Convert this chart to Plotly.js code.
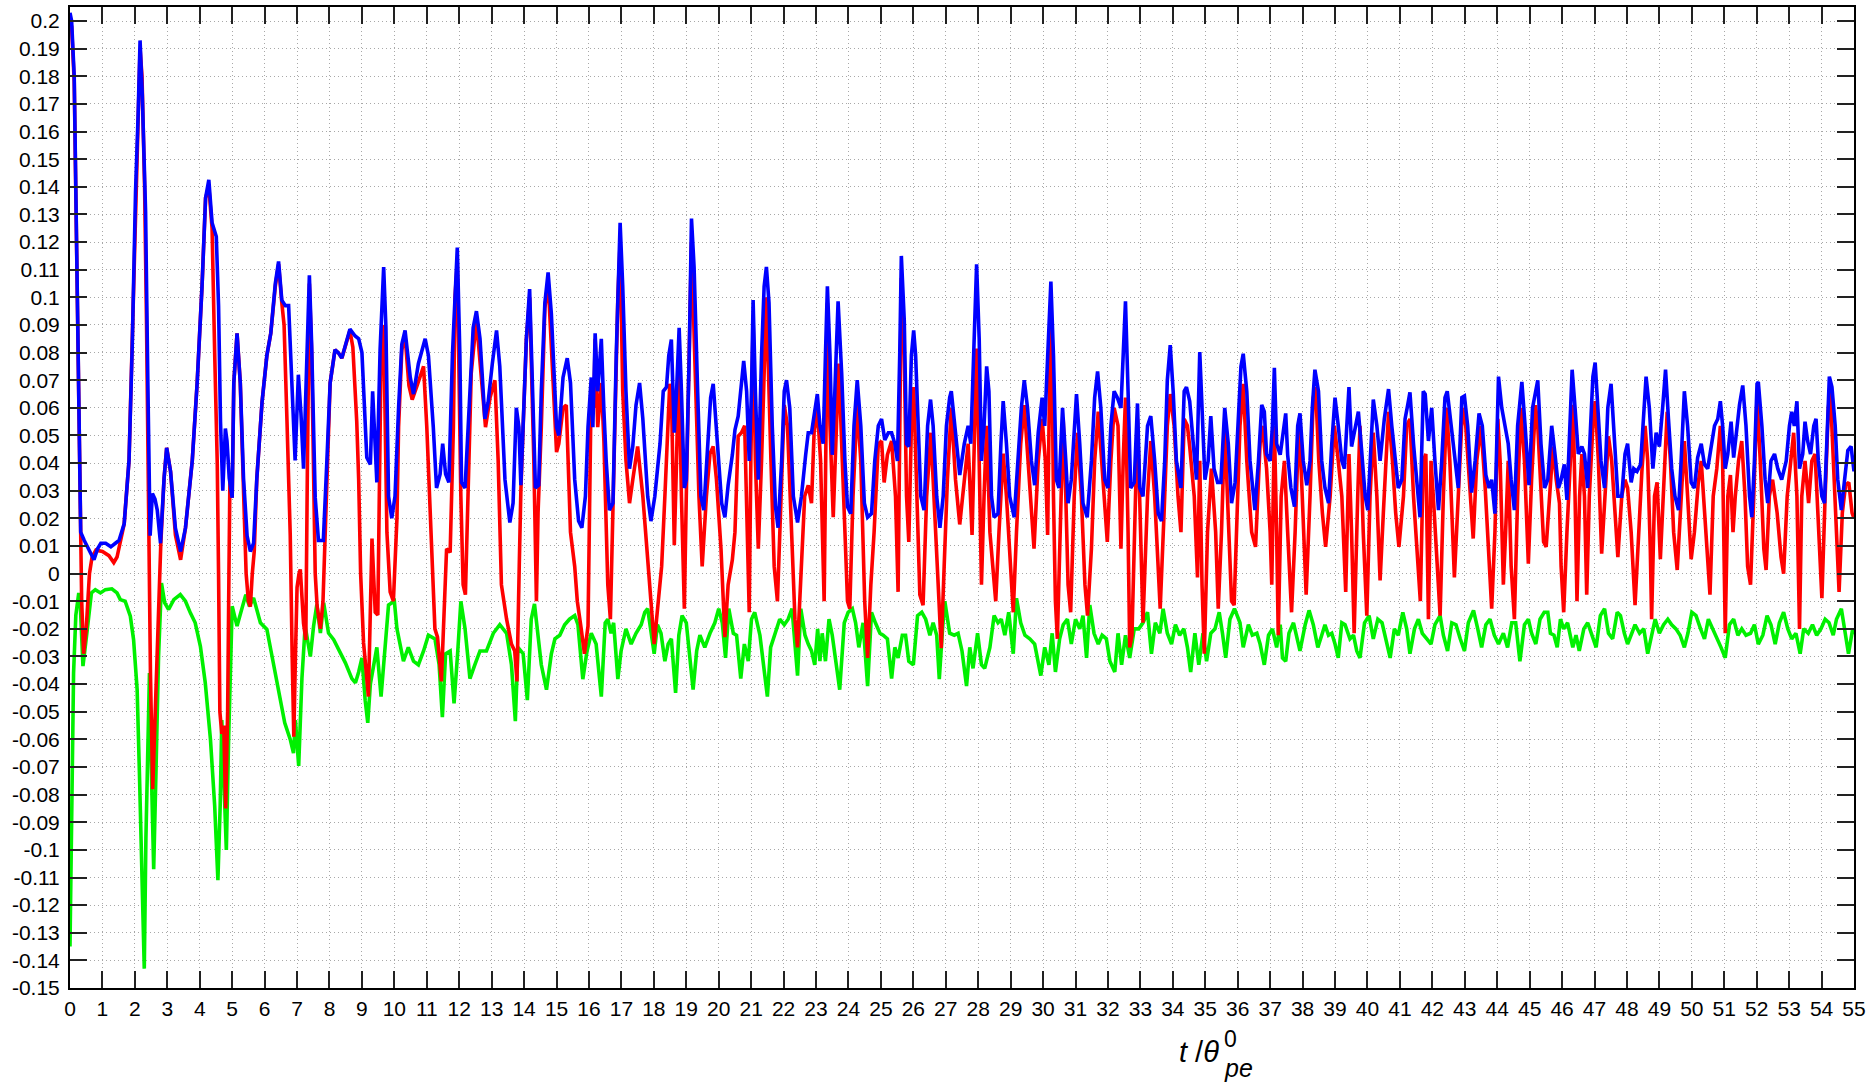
<!DOCTYPE html>
<html>
<head>
<meta charset="utf-8">
<script src="https://cdn.plot.ly/plotly-3.0.1.min.js"></script>
<style>
  html, body { margin: 0; padding: 0; background: #ffffff; }
  #plot { width: 1871px; height: 1085px; }
</style>
</head>
<body>
<div id="plot"></div>
<script>
// Blue curve: [t / theta_pe^0, value]
const bluePoints = [
  [0.0,0.203],[0.05,0.2],[0.13,0.18],[0.18,0.138],[0.23,0.083],[0.28,0.041],[0.33,0.015],[0.44,0.012],
  [0.6,0.008],[0.74,0.005],[0.85,0.009],[0.95,0.011],[1.1,0.011],[1.26,0.0097],[1.4,0.011],[1.51,0.012],
  [1.67,0.018],[1.82,0.041],[1.92,0.083],[2.02,0.138],[2.1,0.166],[2.16,0.193],[2.23,0.173],[2.33,0.131],
  [2.4,0.069],[2.47,0.0137],[2.54,0.029],[2.62,0.027],[2.69,0.023],[2.79,0.011],[2.9,0.0345],[2.98,0.0455],
  [3.1,0.037],[3.25,0.0165],[3.41,0.008],[3.56,0.0165],[3.77,0.041],[3.92,0.069],[4.07,0.104],[4.18,0.136],
  [4.28,0.1425],[4.38,0.127],[4.51,0.122],[4.58,0.097],[4.64,0.055],[4.71,0.03],[4.79,0.0525],[4.84,0.048],
  [4.91,0.0345],[5.0,0.0275],[5.05,0.069],[5.15,0.087],[5.25,0.069],[5.35,0.0345],[5.46,0.0137],[5.56,0.008],
  [5.66,0.011],[5.76,0.0345],[5.92,0.062],[6.07,0.079],[6.19,0.087],[6.33,0.105],[6.43,0.113],[6.53,0.099],
  [6.64,0.097],[6.74,0.097],[6.84,0.069],[6.94,0.041],[7.04,0.072],[7.12,0.058],[7.2,0.038],[7.3,0.083],
  [7.38,0.108],[7.45,0.083],[7.56,0.0275],[7.66,0.012],[7.81,0.012],[7.92,0.041],[8.02,0.069],[8.17,0.081],
  [8.27,0.08],[8.38,0.078],[8.51,0.083],[8.63,0.0885],[8.79,0.086],[8.9,0.085],[9.0,0.08],[9.1,0.053],
  [9.15,0.042],[9.26,0.0395],[9.33,0.066],[9.39,0.051],[9.46,0.033],[9.56,0.081],[9.67,0.111],[9.74,0.089],
  [9.82,0.028],[9.92,0.02],[10.02,0.028],[10.13,0.06],[10.23,0.083],[10.33,0.088],[10.49,0.071],[10.59,0.065],
  [10.74,0.076],[10.95,0.085],[11.05,0.079],[11.2,0.053],[11.3,0.031],[11.41,0.036],[11.49,0.047],[11.58,0.036],
  [11.68,0.033],[11.79,0.079],[11.87,0.104],[11.94,0.118],[12.02,0.079],[12.07,0.033],[12.18,0.031],[12.33,0.066],
  [12.43,0.089],[12.53,0.095],[12.64,0.085],[12.79,0.056],[12.89,0.062],[13.02,0.076],[13.15,0.088],[13.25,0.075],
  [13.41,0.034],[13.56,0.0185],[13.66,0.0255],[13.76,0.06],[13.84,0.053],[13.9,0.032],[13.97,0.053],[14.07,0.085],
  [14.17,0.103],[14.28,0.053],[14.35,0.031],[14.45,0.032],[14.53,0.066],[14.64,0.098],[14.74,0.109],[14.84,0.094],
  [15.0,0.053],[15.07,0.05],[15.2,0.071],[15.33,0.078],[15.43,0.069],[15.56,0.034],[15.68,0.019],[15.78,0.0166],
  [15.89,0.028],[15.97,0.053],[16.07,0.071],[16.12,0.053],[16.19,0.087],[16.27,0.066],[16.38,0.085],[16.46,0.059],
  [16.53,0.041],[16.63,0.023],[16.74,0.0255],[16.84,0.079],[16.89,0.104],[16.96,0.127],[17.04,0.104],[17.14,0.066],
  [17.25,0.038],[17.35,0.046],[17.45,0.061],[17.56,0.069],[17.66,0.056],[17.81,0.028],[17.91,0.019],[18.03,0.028],
  [18.19,0.047],[18.29,0.066],[18.39,0.0675],[18.46,0.079],[18.54,0.0847],[18.63,0.051],[18.7,0.066],[18.78,0.089],
  [18.85,0.066],[18.94,0.031],[19.0,0.034],[19.09,0.079],[19.16,0.1285],[19.24,0.111],[19.35,0.066],[19.45,0.028],
  [19.54,0.023],[19.65,0.047],[19.75,0.0637],[19.83,0.0687],[19.93,0.0535],[20.09,0.0255],[20.19,0.0204],[20.29,0.032],
  [20.42,0.043],[20.5,0.052],[20.6,0.057],[20.68,0.066],[20.77,0.077],[20.86,0.066],[20.94,0.0408],[21.01,0.066],
  [21.06,0.099],[21.13,0.066],[21.22,0.034],[21.32,0.079],[21.4,0.104],[21.47,0.111],[21.55,0.098],[21.65,0.0535],
  [21.75,0.0242],[21.83,0.0166],[21.94,0.0408],[22.02,0.066],[22.09,0.07],[22.19,0.06],[22.3,0.028],[22.43,0.0185],
  [22.55,0.028],[22.68,0.043],[22.76,0.051],[22.86,0.051],[22.96,0.06],[23.04,0.065],[23.12,0.0535],[23.22,0.047],
  [23.29,0.079],[23.35,0.104],[23.43,0.079],[23.5,0.043],[23.58,0.066],[23.68,0.0986],[23.79,0.0726],[23.89,0.0408],
  [23.97,0.0242],[24.07,0.0217],[24.17,0.0535],[24.27,0.07],[24.38,0.0535],[24.49,0.0255],[24.59,0.0204],[24.71,0.0217],
  [24.81,0.0408],[24.92,0.0535],[25.02,0.056],[25.12,0.0484],[25.23,0.051],[25.33,0.051],[25.43,0.047],[25.51,0.0408],
  [25.58,0.079],[25.63,0.115],[25.72,0.0917],[25.79,0.047],[25.86,0.046],[25.94,0.079],[26.01,0.088],[26.07,0.079],
  [26.15,0.0535],[26.23,0.028],[26.33,0.023],[26.44,0.0535],[26.53,0.063],[26.61,0.0535],[26.72,0.028],[26.82,0.0166],
  [26.92,0.028],[27.02,0.0535],[27.12,0.0637],[27.17,0.066],[27.3,0.051],[27.43,0.0357],[27.57,0.047],[27.69,0.0535],
  [27.77,0.047],[27.87,0.079],[27.95,0.112],[28.03,0.085],[28.1,0.0408],[28.18,0.0535],[28.26,0.075],[28.33,0.066],
  [28.41,0.028],[28.49,0.0204],[28.61,0.0217],[28.7,0.047],[28.77,0.0624],[28.87,0.047],[28.97,0.028],[29.11,0.0204],
  [29.23,0.0408],[29.33,0.06],[29.42,0.07],[29.52,0.06],[29.64,0.0408],[29.74,0.032],[29.85,0.051],[29.97,0.0637],
  [30.05,0.0535],[30.16,0.085],[30.24,0.1057],[30.32,0.079],[30.41,0.034],[30.49,0.031],[30.6,0.06],[30.7,0.0408],
  [30.77,0.0255],[30.87,0.034],[31.03,0.065],[31.13,0.047],[31.23,0.0255],[31.36,0.0204],[31.49,0.0408],[31.59,0.0637],
  [31.68,0.0732],[31.78,0.06],[31.9,0.034],[32.0,0.031],[32.09,0.0535],[32.19,0.066],[32.29,0.0637],[32.4,0.06],
  [32.47,0.079],[32.54,0.0986],[32.62,0.066],[32.7,0.031],[32.81,0.033],[32.91,0.0616],[32.98,0.031],[33.08,0.028],
  [33.22,0.0535],[33.32,0.057],[33.44,0.0408],[33.55,0.0217],[33.65,0.019],[33.75,0.0408],[33.83,0.07],[33.92,0.0827],
  [34.01,0.066],[34.11,0.0408],[34.25,0.031],[34.35,0.066],[34.42,0.0675],[34.52,0.0624],[34.63,0.047],[34.73,0.034],
  [34.83,0.0802],[34.91,0.0535],[34.99,0.034],[35.09,0.0408],[35.17,0.057],[35.27,0.038],[35.38,0.033],[35.48,0.033],
  [35.6,0.06],[35.71,0.047],[35.81,0.0255],[35.92,0.033],[36.02,0.0535],[36.1,0.075],[36.17,0.0796],[36.28,0.066],
  [36.38,0.0408],[36.53,0.023],[36.64,0.0408],[36.74,0.0611],[36.82,0.0586],[36.89,0.0433],[37.0,0.0408],[37.07,0.0535],
  [37.13,0.0745],[37.2,0.047],[37.31,0.043],[37.41,0.0535],[37.48,0.058],[37.54,0.043],[37.64,0.031],[37.75,0.0242],
  [37.85,0.0535],[37.92,0.058],[38.02,0.0408],[38.13,0.032],[38.23,0.0408],[38.3,0.06],[38.38,0.0738],[38.49,0.066],
  [38.59,0.0408],[38.69,0.031],[38.8,0.0255],[38.9,0.047],[39.0,0.0637],[39.1,0.0535],[39.21,0.0408],[39.29,0.038],
  [39.36,0.0535],[39.43,0.0675],[39.51,0.046],[39.62,0.0535],[39.72,0.0586],[39.82,0.0446],[39.93,0.028],[40.01,0.023],
  [40.11,0.051],[40.18,0.063],[40.29,0.0535],[40.39,0.0408],[40.52,0.056],[40.65,0.0668],[40.75,0.0535],[40.85,0.0408],
  [40.95,0.031],[41.06,0.034],[41.16,0.056],[41.24,0.061],[41.31,0.0656],[41.42,0.047],[41.52,0.034],[41.62,0.0204],
  [41.72,0.066],[41.78,0.065],[41.88,0.048],[41.98,0.06],[42.08,0.0408],[42.19,0.023],[42.29,0.0408],[42.39,0.0637],
  [42.46,0.066],[42.58,0.0535],[42.7,0.0408],[42.8,0.031],[42.91,0.0637],[42.99,0.0643],[43.09,0.0535],[43.21,0.0293],
  [43.32,0.0408],[43.44,0.058],[43.54,0.0535],[43.65,0.0357],[43.75,0.031],[43.83,0.034],[43.93,0.0217],[44.04,0.0713],
  [44.14,0.06],[44.24,0.0535],[44.34,0.047],[44.43,0.034],[44.53,0.023],[44.63,0.0535],[44.76,0.0694],[44.86,0.0535],
  [44.98,0.032],[45.09,0.06],[45.25,0.07],[45.35,0.047],[45.46,0.031],[45.56,0.034],[45.68,0.0535],[45.78,0.0433],
  [45.89,0.031],[45.97,0.034],[46.07,0.0395],[46.15,0.0267],[46.23,0.047],[46.31,0.0738],[46.4,0.06],[46.5,0.0433],
  [46.61,0.046],[46.69,0.0433],[46.79,0.031],[46.87,0.0535],[46.95,0.0713],[47.02,0.0764],[47.12,0.0535],[47.2,0.0408],
  [47.31,0.031],[47.41,0.06],[47.51,0.0687],[47.61,0.047],[47.72,0.028],[47.84,0.028],[47.94,0.0433],[48.02,0.047],
  [48.13,0.033],[48.21,0.038],[48.31,0.037],[48.42,0.0395],[48.49,0.0535],[48.59,0.0713],[48.69,0.06],[48.8,0.038],
  [48.9,0.051],[49.0,0.046],[49.1,0.06],[49.19,0.0738],[49.28,0.056],[49.38,0.038],[49.48,0.028],[49.59,0.023],
  [49.67,0.0408],[49.77,0.066],[49.87,0.0535],[49.98,0.033],[50.08,0.031],[50.18,0.042],[50.29,0.047],[50.39,0.0395],
  [50.49,0.038],[50.59,0.046],[50.7,0.0535],[50.8,0.056],[50.88,0.0624],[50.95,0.0535],[51.03,0.038],[51.11,0.0433],
  [51.21,0.055],[51.29,0.042],[51.4,0.0535],[51.47,0.0611],[51.57,0.0681],[51.67,0.0535],[51.78,0.028],[51.85,0.0204],
  [51.93,0.0408],[52.01,0.0687],[52.05,0.0694],[52.16,0.0535],[52.26,0.034],[52.34,0.0255],[52.44,0.0408],[52.55,0.0433],
  [52.65,0.038],[52.77,0.034],[52.91,0.0408],[53.01,0.0535],[53.08,0.0586],[53.16,0.0535],[53.24,0.0624],[53.32,0.038],
  [53.42,0.0433],[53.49,0.055],[53.57,0.048],[53.66,0.0433],[53.76,0.0535],[53.83,0.056],[53.9,0.0408],[54.01,0.028],
  [54.09,0.0255],[54.17,0.047],[54.24,0.0713],[54.32,0.0675],[54.42,0.0535],[54.5,0.034],[54.61,0.023],[54.71,0.034],
  [54.81,0.0446],[54.91,0.046],[55.0,0.037]
];

// Red curve: [t / theta_pe^0, value]
const redPoints = [
  [0.0,0.2],[0.05,0.198],[0.13,0.178],[0.18,0.136],[0.23,0.081],[0.28,0.04],[0.31,0.013],[0.36,-0.01],
  [0.42,-0.029],[0.5,-0.02],[0.6,0.0],[0.68,0.006],[0.8,0.0085],[1.0,0.008],[1.2,0.0065],[1.35,0.004],
  [1.45,0.006],[1.55,0.012],[1.67,0.018],[1.82,0.041],[1.92,0.083],[2.02,0.136],[2.1,0.164],[2.16,0.19],
  [2.22,0.18],[2.3,0.14],[2.36,0.09],[2.42,0.03],[2.45,0.0],[2.48,-0.036],[2.55,-0.078],[2.65,-0.04],
  [2.75,-0.01],[2.8,0.011],[2.9,0.0345],[2.98,0.0455],[3.1,0.037],[3.25,0.014],[3.41,0.005],[3.56,0.0165],
  [3.77,0.041],[3.92,0.069],[4.07,0.104],[4.18,0.136],[4.28,0.14],[4.38,0.125],[4.46,0.08],[4.54,0.04],
  [4.58,0.0],[4.62,-0.05],[4.68,-0.058],[4.74,-0.055],[4.8,-0.085],[4.86,-0.05],[4.9,0.0],[4.93,0.034],
  [5.0,0.0275],[5.05,0.069],[5.15,0.087],[5.25,0.069],[5.35,0.03],[5.43,0.0],[5.5,-0.01],[5.56,-0.012],
  [5.62,0.0],[5.68,0.008],[5.76,0.0345],[5.92,0.062],[6.07,0.079],[6.19,0.087],[6.33,0.104],[6.43,0.112],
  [6.53,0.098],[6.6,0.09],[6.69,0.055],[6.79,0.014],[6.85,-0.03],[6.9,-0.059],[6.95,-0.03],[7.0,-0.005],
  [7.06,0.0],[7.1,0.0015],[7.2,-0.018],[7.27,-0.024],[7.32,0.04],[7.38,0.105],[7.45,0.08],[7.52,0.02],
  [7.56,0.0],[7.62,-0.012],[7.72,-0.02],[7.8,-0.01],[7.86,0.012],[7.92,0.041],[8.02,0.069],[8.17,0.081],
  [8.27,0.08],[8.38,0.078],[8.51,0.083],[8.63,0.088],[8.72,0.082],[8.84,0.055],[8.9,0.034],[8.96,0.0],
  [9.05,-0.025],[9.12,-0.036],[9.2,-0.0445],[9.31,0.0127],[9.41,-0.014],[9.49,-0.015],[9.59,0.079],[9.67,0.09],
  [9.77,0.015],[9.87,-0.0066],[9.97,-0.01],[10.08,0.02],[10.13,0.053],[10.23,0.081],[10.33,0.086],[10.45,0.068],
  [10.55,0.063],[10.7,0.068],[10.9,0.075],[11.0,0.053],[11.1,0.022],[11.25,-0.02],[11.33,-0.023],[11.45,-0.039],
  [11.61,0.009],[11.72,0.0077],[11.82,0.053],[11.87,0.1],[11.94,0.113],[12.05,0.028],[12.12,-0.004],[12.19,-0.0076],
  [12.27,0.028],[12.37,0.0726],[12.53,0.092],[12.69,0.07],[12.81,0.053],[12.95,0.0637],[13.1,0.07],[13.2,0.041],
  [13.3,-0.004],[13.46,-0.0165],[13.61,-0.0255],[13.71,-0.028],[13.78,-0.039],[13.85,0.0026],[13.9,0.03],[13.97,0.053],
  [14.07,0.085],[14.17,0.1],[14.3,0.041],[14.38,-0.01],[14.43,0.022],[14.53,0.053],[14.64,0.096],[14.74,0.106],
  [14.9,0.064],[15.0,0.044],[15.07,0.047],[15.2,0.06],[15.3,0.061],[15.43,0.015],[15.56,0.0026],[15.64,-0.01],
  [15.76,-0.02],[15.86,-0.029],[15.97,-0.019],[16.02,0.028],[16.07,0.069],[16.15,0.06],[16.19,0.085],[16.27,0.053],
  [16.38,0.069],[16.46,0.048],[16.58,-0.004],[16.66,-0.0165],[16.74,0.023],[16.84,0.066],[16.89,0.1],[16.96,0.12],
  [17.04,0.066],[17.14,0.041],[17.25,0.0255],[17.35,0.034],[17.5,0.046],[17.66,0.028],[17.81,0.0026],[17.91,-0.01],
  [18.01,-0.0255],[18.11,-0.014],[18.24,0.0026],[18.34,0.028],[18.42,0.0535],[18.49,0.0687],[18.54,0.066],[18.63,0.0103],
  [18.7,0.041],[18.77,0.079],[18.85,0.028],[18.94,-0.0127],[19.0,0.028],[19.09,0.079],[19.16,0.12],[19.26,0.079],
  [19.39,0.028],[19.49,0.0026],[19.62,0.028],[19.73,0.0434],[19.83,0.046],[19.93,0.034],[20.07,0.009],[20.19,-0.023],
  [20.29,-0.004],[20.42,0.005],[20.5,0.015],[20.6,0.0497],[20.7,0.051],[20.8,0.0535],[20.87,0.02],[20.94,-0.014],
  [20.99,0.0408],[21.06,0.092],[21.13,0.0408],[21.22,0.009],[21.32,0.0408],[21.47,0.1],[21.61,0.0408],[21.71,0.0026],
  [21.81,-0.01],[21.91,0.028],[22.02,0.061],[22.12,0.0535],[22.24,0.015],[22.35,-0.0165],[22.43,-0.0267],[22.55,0.0026],
  [22.65,0.028],[22.76,0.032],[22.86,0.0255],[22.94,0.051],[23.04,0.06],[23.14,0.0408],[23.25,-0.01],[23.31,0.0535],
  [23.35,0.098],[23.43,0.0535],[23.53,0.0204],[23.63,0.0535],[23.7,0.076],[23.81,0.0408],[23.89,0.015],[23.97,-0.01],
  [24.04,-0.0127],[24.14,0.028],[24.27,0.061],[24.38,0.0408],[24.5,-0.01],[24.59,-0.0305],[24.69,-0.004],[24.79,0.015],
  [24.92,0.047],[25.02,0.048],[25.1,0.033],[25.2,0.043],[25.33,0.048],[25.45,0.028],[25.53,-0.0066],[25.58,0.041],
  [25.63,0.107],[25.72,0.079],[25.79,0.028],[25.86,0.0115],[25.94,0.0535],[26.01,0.0675],[26.1,0.028],[26.2,-0.0076],
  [26.3,-0.0114],[26.41,0.028],[26.54,0.051],[26.66,0.022],[26.77,-0.01],[26.86,-0.027],[26.95,0.0026],[27.05,0.034],
  [27.17,0.06],[27.3,0.034],[27.43,0.0178],[27.57,0.034],[27.69,0.047],[27.81,0.014],[27.9,0.0535],[27.95,0.0815],
  [28.03,0.0408],[28.1,-0.004],[28.18,0.028],[28.26,0.0535],[28.36,0.015],[28.46,0.0026],[28.54,-0.01],[28.64,0.015],
  [28.77,0.0434],[28.87,0.028],[29.0,0.0],[29.08,-0.014],[29.18,0.015],[29.31,0.047],[29.42,0.061],[29.54,0.0408],
  [29.64,0.022],[29.72,0.009],[29.85,0.0408],[29.97,0.056],[30.07,0.0408],[30.14,0.014],[30.21,0.079],[30.26,0.092],
  [30.32,0.028],[30.38,-0.01],[30.44,-0.0236],[30.55,0.028],[30.62,0.056],[30.7,0.028],[30.77,-0.004],[30.85,-0.014],
  [30.96,0.028],[31.06,0.051],[31.18,0.028],[31.29,-0.004],[31.37,-0.0152],[31.49,0.009],[31.59,0.0408],[31.7,0.0586],
  [31.8,0.0408],[31.92,0.0178],[31.98,0.0115],[32.09,0.0408],[32.19,0.06],[32.31,0.0535],[32.4,0.009],[32.47,0.0408],
  [32.54,0.0637],[32.62,0.015],[32.67,-0.0267],[32.74,-0.0223],[32.83,0.015],[32.91,0.056],[32.99,0.022],[33.08,-0.0178],
  [33.22,0.028],[33.32,0.048],[33.44,0.028],[33.53,0.0026],[33.61,-0.0127],[33.73,0.022],[33.83,0.0535],[33.92,0.065],
  [34.04,0.0535],[34.16,0.028],[34.25,0.015],[34.35,0.056],[34.45,0.0535],[34.52,0.046],[34.66,0.028],[34.76,-0.0014],
  [34.83,0.0408],[34.9,-0.004],[34.97,-0.029],[35.07,0.015],[35.19,0.038],[35.32,0.015],[35.4,-0.0127],[35.5,0.015],
  [35.6,0.0535],[35.71,0.02],[35.81,-0.01],[35.89,-0.0114],[35.97,0.022],[36.07,0.0535],[36.17,0.0687],[36.28,0.0408],
  [36.43,0.015],[36.55,0.0097],[36.69,0.047],[36.76,0.0535],[36.89,0.038],[37.0,0.015],[37.05,-0.004],[37.13,0.0535],
  [37.2,0.015],[37.25,-0.0223],[37.34,0.028],[37.44,0.0408],[37.54,0.015],[37.66,-0.014],[37.77,0.015],[37.89,0.056],
  [37.99,0.028],[38.11,-0.0076],[38.23,0.028],[38.33,0.0637],[38.4,0.0675],[38.5,0.0408],[38.61,0.022],[38.71,0.0097],
  [38.85,0.028],[38.98,0.0535],[39.1,0.0408],[39.21,0.028],[39.33,-0.0066],[39.39,0.028],[39.43,0.0433],[39.51,0.015],
  [39.59,-0.0216],[39.7,0.028],[39.77,0.0535],[39.87,0.015],[39.98,-0.0152],[40.08,0.028],[40.18,0.051],[40.29,0.028],
  [40.39,-0.0025],[40.49,0.022],[40.65,0.0586],[40.77,0.0408],[40.87,0.022],[40.97,0.0097],[41.11,0.028],[41.21,0.0535],
  [41.31,0.056],[41.42,0.028],[41.55,0.0026],[41.63,-0.01],[41.72,0.0408],[41.8,0.0433],[41.88,-0.0165],[41.96,0.0408],
  [42.03,0.028],[42.14,0.0026],[42.24,-0.0152],[42.34,0.028],[42.44,0.06],[42.54,0.0408],[42.68,-0.0014],[42.8,0.028],
  [42.93,0.06],[43.03,0.0535],[43.16,0.028],[43.26,0.0127],[43.37,0.0408],[43.5,0.0535],[43.63,0.031],[43.75,0.0026],
  [43.83,-0.0127],[43.93,0.015],[44.02,0.056],[44.09,0.0408],[44.19,-0.004],[44.26,0.015],[44.34,0.0408],[44.43,0.0026],
  [44.53,-0.0165],[44.63,0.028],[44.73,0.06],[44.84,0.0408],[44.96,0.0036],[45.06,0.034],[45.18,0.061],[45.25,0.0535],
  [45.35,0.028],[45.43,0.0115],[45.51,0.0097],[45.61,0.028],[45.72,0.046],[45.82,0.034],[45.92,0.0255],[45.97,0.0026],
  [46.05,-0.014],[46.15,0.015],[46.26,0.0408],[46.34,0.0611],[46.4,0.028],[46.46,-0.01],[46.54,0.028],[46.61,0.0433],
  [46.69,0.028],[46.76,-0.0076],[46.84,0.028],[46.95,0.0535],[47.02,0.0624],[47.12,0.0408],[47.22,0.0072],[47.33,0.028],
  [47.43,0.0497],[47.53,0.0408],[47.63,0.022],[47.72,0.006],[47.84,0.028],[47.94,0.034],[48.02,0.031],[48.13,0.015],
  [48.25,-0.0114],[48.35,0.015],[48.46,0.037],[48.56,0.0535],[48.64,0.0408],[48.72,0.0089],[48.76,-0.0165],[48.85,0.028],
  [48.93,0.033],[49.03,0.0052],[49.13,0.028],[49.24,0.0586],[49.34,0.0408],[49.44,0.015],[49.55,0.0013],[49.65,0.022],
  [49.77,0.048],[49.87,0.028],[49.98,0.0052],[50.08,0.015],[50.2,0.033],[50.29,0.0408],[50.39,0.022],[50.49,0.0026],
  [50.56,-0.0076],[50.66,0.028],[50.77,0.038],[50.88,0.0535],[50.95,0.0408],[51.03,-0.0216],[51.11,0.028],[51.19,0.0357],
  [51.27,0.015],[51.34,0.028],[51.44,0.0408],[51.54,0.048],[51.64,0.028],[51.72,0.0026],[51.81,-0.004],[51.91,0.028],
  [52.01,0.0637],[52.11,0.0408],[52.22,0.009],[52.29,0.0013],[52.39,0.028],[52.49,0.034],[52.63,0.022],[52.75,0.006],
  [52.83,0.0],[52.94,0.028],[53.04,0.0408],[53.14,0.051],[53.24,0.028],[53.32,-0.02],[53.39,0.028],[53.49,0.0408],
  [53.6,0.0255],[53.7,0.0408],[53.8,0.0433],[53.9,0.015],[54.01,-0.0089],[54.11,0.028],[54.21,0.06],[54.27,0.066],
  [54.37,0.0408],[54.47,0.015],[54.54,-0.0066],[54.64,0.022],[54.74,0.032],[54.84,0.033],[54.94,0.022],[55.0,0.02]
];

// Green curve: [t / theta_pe^0, value]
const greenPoints = [
  [0.0,-0.135],[0.04,-0.09],[0.08,-0.05],[0.11,-0.036],[0.18,-0.015],[0.27,-0.007],[0.32,-0.012],[0.4,-0.0335],
  [0.52,-0.0215],[0.66,-0.007],[0.78,-0.0058],[0.94,-0.007],[1.09,-0.0058],[1.29,-0.0055],[1.45,-0.007],[1.55,-0.0094],
  [1.7,-0.01],[1.86,-0.0154],[1.96,-0.0239],[2.07,-0.042],[2.14,-0.072],[2.2,-0.096],[2.24,-0.12],[2.29,-0.143],
  [2.34,-0.096],[2.4,-0.055],[2.45,-0.036],[2.51,-0.072],[2.58,-0.107],[2.65,-0.072],[2.73,-0.03],[2.82,-0.0034],
  [2.92,-0.0106],[3.04,-0.013],[3.2,-0.0094],[3.4,-0.0076],[3.56,-0.01],[3.71,-0.0142],[3.86,-0.0178],[4.02,-0.0263],
  [4.17,-0.0395],[4.33,-0.06],[4.46,-0.084],[4.56,-0.111],[4.63,-0.084],[4.68,-0.053],[4.76,-0.084],[4.82,-0.1],
  [4.89,-0.06],[5.0,-0.0118],[5.15,-0.019],[5.3,-0.013],[5.42,-0.0076],[5.53,-0.0118],[5.66,-0.0088],[5.87,-0.0178],
  [6.07,-0.0202],[6.23,-0.03],[6.43,-0.042],[6.62,-0.054],[6.79,-0.06],[6.89,-0.065],[6.95,-0.053],[7.05,-0.0696],
  [7.15,-0.038],[7.25,-0.019],[7.41,-0.03],[7.51,-0.019],[7.61,-0.0112],[7.72,-0.0215],[7.82,-0.0106],[7.97,-0.0215],
  [8.13,-0.0239],[8.28,-0.0275],[8.49,-0.0323],[8.69,-0.038],[8.8,-0.0395],[8.9,-0.0356],[9.0,-0.0305],[9.1,-0.0458],
  [9.18,-0.054],[9.26,-0.04],[9.46,-0.0267],[9.59,-0.0445],[9.82,-0.0114],[10.0,-0.01],[10.08,-0.02],[10.28,-0.0317],
  [10.43,-0.0267],[10.59,-0.0317],[10.74,-0.033],[10.9,-0.028],[11.05,-0.0223],[11.25,-0.0236],[11.38,-0.033],[11.48,-0.052],
  [11.58,-0.029],[11.72,-0.028],[11.84,-0.047],[11.95,-0.029],[12.05,-0.01],[12.18,-0.02],[12.33,-0.038],[12.48,-0.033],
  [12.64,-0.028],[12.84,-0.028],[13.05,-0.0216],[13.25,-0.0185],[13.46,-0.0216],[13.61,-0.033],[13.73,-0.0534],[13.81,-0.0267],
  [13.97,-0.029],[14.1,-0.0458],[14.22,-0.0165],[14.32,-0.011],[14.43,-0.0223],[14.53,-0.033],[14.69,-0.042],[14.84,-0.029],
  [14.95,-0.0236],[15.1,-0.0223],[15.25,-0.0185],[15.4,-0.0165],[15.56,-0.0152],[15.66,-0.0185],[15.81,-0.0382],[15.94,-0.028],
  [16.07,-0.0216],[16.22,-0.0255],[16.38,-0.0445],[16.5,-0.0178],[16.58,-0.0165],[16.68,-0.0216],[16.76,-0.0178],[16.89,-0.0382],
  [16.99,-0.028],[17.14,-0.02],[17.3,-0.0255],[17.45,-0.0216],[17.61,-0.0185],[17.72,-0.014],[17.81,-0.0127],[17.93,-0.0223],
  [18.01,-0.029],[18.11,-0.0185],[18.22,-0.0216],[18.34,-0.0317],[18.44,-0.0255],[18.54,-0.0236],[18.67,-0.0432],[18.77,-0.0223],
  [18.87,-0.0152],[19.0,-0.0178],[19.11,-0.029],[19.21,-0.042],[19.32,-0.028],[19.42,-0.0223],[19.57,-0.0267],[19.73,-0.0216],
  [19.88,-0.0178],[20.0,-0.0127],[20.11,-0.0178],[20.21,-0.0305],[20.31,-0.0127],[20.45,-0.0216],[20.55,-0.0223],[20.68,-0.038],
  [20.79,-0.0255],[20.91,-0.0317],[21.01,-0.0165],[21.11,-0.014],[21.27,-0.0223],[21.4,-0.0356],[21.5,-0.0445],[21.6,-0.0267],
  [21.73,-0.0216],[21.88,-0.0165],[22.02,-0.0185],[22.14,-0.0165],[22.26,-0.0127],[22.35,-0.0267],[22.43,-0.0369],[22.53,-0.0127],
  [22.66,-0.0223],[22.76,-0.0255],[22.86,-0.028],[22.96,-0.033],[23.05,-0.02],[23.12,-0.0317],[23.19,-0.0216],[23.29,-0.0317],
  [23.4,-0.0165],[23.5,-0.0223],[23.63,-0.0343],[23.73,-0.042],[23.87,-0.0178],[23.99,-0.014],[24.12,-0.0127],[24.22,-0.0178],
  [24.32,-0.0267],[24.45,-0.0178],[24.59,-0.0407],[24.71,-0.014],[24.83,-0.0178],[24.97,-0.0216],[25.07,-0.0223],[25.2,-0.0236],
  [25.33,-0.038],[25.43,-0.0267],[25.53,-0.0305],[25.66,-0.0223],[25.76,-0.0223],[25.86,-0.0317],[26.0,-0.033],[26.13,-0.0152],
  [26.26,-0.014],[26.38,-0.0165],[26.51,-0.0223],[26.61,-0.0178],[26.72,-0.0223],[26.8,-0.0382],[26.9,-0.02],[26.97,-0.01],
  [27.12,-0.0216],[27.26,-0.0223],[27.38,-0.0216],[27.5,-0.028],[27.64,-0.0407],[27.74,-0.0267],[27.84,-0.0343],[27.98,-0.0216],
  [28.1,-0.033],[28.2,-0.0343],[28.36,-0.0267],[28.49,-0.0152],[28.61,-0.0178],[28.71,-0.0165],[28.82,-0.0223],[28.94,-0.014],
  [29.08,-0.029],[29.18,-0.0089],[29.31,-0.0178],[29.44,-0.0223],[29.59,-0.0236],[29.74,-0.0255],[29.93,-0.0369],[30.05,-0.0267],
  [30.18,-0.033],[30.28,-0.0216],[30.38,-0.0356],[30.51,-0.0236],[30.62,-0.0185],[30.75,-0.0165],[30.87,-0.0255],[31.0,-0.0165],
  [31.13,-0.02],[31.23,-0.0152],[31.34,-0.0305],[31.44,-0.0114],[31.57,-0.0216],[31.7,-0.0255],[31.82,-0.0223],[31.95,-0.0236],
  [32.06,-0.0317],[32.21,-0.0356],[32.31,-0.0216],[32.42,-0.033],[32.54,-0.0223],[32.67,-0.0305],[32.81,-0.02],[32.95,-0.02],
  [33.08,-0.0178],[33.22,-0.014],[33.34,-0.029],[33.46,-0.0178],[33.6,-0.0216],[33.7,-0.0127],[33.83,-0.0216],[33.96,-0.0255],
  [34.08,-0.0185],[34.21,-0.0223],[34.34,-0.02],[34.45,-0.0267],[34.55,-0.0356],[34.68,-0.0216],[34.8,-0.033],[34.93,-0.0216],
  [35.04,-0.0317],[35.17,-0.0216],[35.3,-0.02],[35.43,-0.014],[35.53,-0.0216],[35.63,-0.0305],[35.76,-0.0165],[35.9,-0.0127],
  [36.07,-0.0178],[36.17,-0.0267],[36.33,-0.0185],[36.45,-0.0223],[36.59,-0.0216],[36.69,-0.0255],[36.82,-0.033],[36.95,-0.0223],
  [37.07,-0.02],[37.2,-0.0267],[37.31,-0.0185],[37.38,-0.0305],[37.48,-0.0317],[37.58,-0.0216],[37.72,-0.0178],[37.82,-0.0236],
  [37.92,-0.028],[38.08,-0.0185],[38.2,-0.0133],[38.33,-0.0185],[38.47,-0.0267],[38.59,-0.0223],[38.69,-0.0185],[38.8,-0.0223],
  [38.9,-0.0216],[39.0,-0.0255],[39.1,-0.0305],[39.21,-0.0178],[39.31,-0.0185],[39.46,-0.0236],[39.57,-0.0223],[39.67,-0.028],
  [39.77,-0.0305],[39.91,-0.0178],[40.05,-0.0152],[40.18,-0.0236],[40.32,-0.0165],[40.45,-0.0178],[40.59,-0.0255],[40.7,-0.0305],
  [40.83,-0.02],[40.95,-0.0223],[41.09,-0.014],[41.21,-0.02],[41.31,-0.029],[41.45,-0.02],[41.57,-0.0165],[41.69,-0.0216],
  [41.83,-0.0236],[41.96,-0.0255],[42.08,-0.0185],[42.24,-0.0152],[42.34,-0.0223],[42.47,-0.028],[42.6,-0.0178],[42.73,-0.0185],
  [42.86,-0.0236],[42.99,-0.028],[43.11,-0.0178],[43.27,-0.0133],[43.4,-0.02],[43.52,-0.0267],[43.65,-0.0185],[43.78,-0.0165],
  [43.91,-0.0223],[44.04,-0.0255],[44.19,-0.0216],[44.32,-0.0267],[44.45,-0.0178],[44.57,-0.0178],[44.7,-0.0317],[44.84,-0.0185],
  [44.96,-0.0165],[45.06,-0.0216],[45.19,-0.0255],[45.32,-0.0165],[45.45,-0.014],[45.56,-0.014],[45.64,-0.0216],[45.75,-0.0223],
  [45.85,-0.0267],[45.95,-0.0165],[46.05,-0.02],[46.17,-0.0178],[46.33,-0.0267],[46.43,-0.0223],[46.53,-0.028],[46.67,-0.02],
  [46.79,-0.0178],[46.91,-0.0223],[47.05,-0.0267],[47.18,-0.0152],[47.31,-0.0127],[47.43,-0.0216],[47.56,-0.0236],[47.7,-0.014],
  [47.8,-0.0152],[47.92,-0.0216],[48.02,-0.0255],[48.15,-0.0216],[48.25,-0.0185],[48.39,-0.0216],[48.52,-0.02],[48.64,-0.029],
  [48.76,-0.0216],[48.87,-0.0165],[49.0,-0.0216],[49.13,-0.0185],[49.26,-0.0165],[49.38,-0.0185],[49.51,-0.02],[49.64,-0.0223],
  [49.77,-0.0267],[49.88,-0.0216],[50.0,-0.014],[50.13,-0.0152],[50.27,-0.02],[50.39,-0.0236],[50.51,-0.0165],[50.65,-0.02],
  [50.78,-0.0236],[50.9,-0.0267],[51.03,-0.0305],[51.16,-0.0185],[51.29,-0.0165],[51.42,-0.0223],[51.54,-0.02],[51.67,-0.0223],
  [51.81,-0.0216],[51.93,-0.0185],[52.05,-0.0255],[52.19,-0.0223],[52.32,-0.0152],[52.44,-0.0185],[52.57,-0.0255],[52.7,-0.0178],
  [52.83,-0.014],[52.96,-0.02],[53.08,-0.0236],[53.21,-0.0216],[53.34,-0.029],[53.45,-0.02],[53.59,-0.0216],[53.72,-0.0185],
  [53.85,-0.0223],[53.98,-0.02],[54.11,-0.0165],[54.23,-0.0178],[54.36,-0.0223],[54.46,-0.0165],[54.61,-0.0127],[54.73,-0.0216],
  [54.83,-0.029],[54.96,-0.02],[55.0,-0.022]
];

// Axis tick labels
const xTickLabels = Array.from({length: 56}, (_, i) => String(i));
const yTickLabels = [
  '0.2','0.19','0.18','0.17','0.16','0.15','0.14','0.13','0.12','0.11','0.1',
  '0.09','0.08','0.07','0.06','0.05','0.04','0.03','0.02','0.01','0',
  '-0.01','-0.02','-0.03','-0.04','-0.05','-0.06','-0.07','-0.08','-0.09','-0.1',
  '-0.11','-0.12','-0.13','-0.14','-0.15'
];

const col = (pts, k) => pts.map(p => p[k]);

function curve(pts, color) {
  return {
    type: 'scatter', mode: 'lines',
    x: col(pts, 0), y: col(pts, 1),
    line: {color: color, width: 3.6, shape: 'linear'},
    hoverinfo: 'skip', showlegend: false
  };
}

const traces = [
  curve(greenPoints, 'rgb(0,240,0)'),
  curve(redPoints, 'rgb(255,0,0)'),
  curve(bluePoints, 'rgb(0,0,255)')
];

const tickFont = {family: '"Liberation Sans", Arial, sans-serif', size: 21, color: '#000'};
const axisCommon = {
  showline: true, linecolor: '#000', linewidth: 2, mirror: 'ticks',
  ticks: 'inside', ticklen: 17, tickwidth: 2, tickcolor: '#222',
  showgrid: true, gridcolor: '#a8a8a8', gridwidth: 1, griddash: '1px,3px',
  zeroline: false, tickfont: tickFont, fixedrange: true
};

// Axis-title pieces: "t / θ" with a stacked superscript 0 and subscript pe
const titleFont = {family: '"Liberation Sans", Arial, sans-serif', color: '#000'};
const annotations = [
  {text: '<i>t</i> /<i>θ</i>', x: 0.6329, y: -0.0652, font: Object.assign({size: 29}, titleFont)},
  {text: '0', x: 0.6503, y: -0.052, font: Object.assign({size: 23}, titleFont)},
  {text: '<i>pe</i>', x: 0.6548, y: -0.0815, font: Object.assign({size: 25}, titleFont)}
].map(a => Object.assign({xref: 'paper', yref: 'paper', showarrow: false, xanchor: 'center', yanchor: 'middle'}, a));

const layout = {
  width: 1871, height: 1085,
  margin: {l: 70, r: 17, t: 7, b: 97, autoexpand: false},
  paper_bgcolor: '#ffffff', plot_bgcolor: '#ffffff',
  showlegend: false,
  xaxis: Object.assign({}, axisCommon, {
    range: [0, 55], tickmode: 'array',
    tickvals: xTickLabels.map(Number), ticktext: xTickLabels,
    ticklabelstandoff: 1
  }),
  yaxis: Object.assign({}, axisCommon, {
    range: [-0.15, 0.2051], tickmode: 'array',
    tickvals: yTickLabels.map(Number), ticktext: yTickLabels,
    ticklabelstandoff: 4
  }),
  annotations: annotations
};

Plotly.newPlot('plot', traces, layout, {displayModeBar: false, staticPlot: true});
</script>
</body>
</html>
